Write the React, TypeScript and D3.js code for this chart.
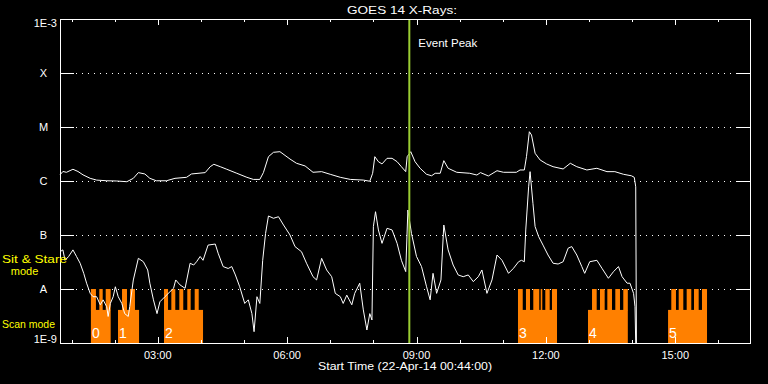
import React from "react";
import * as d3 from "d3";

// ---- data (times are minutes after 22-Apr-2014 00:44 UT, flux in W/m^2) ----
const longChannel: [number, number][] = [
  [0,1.3e-6],[4,1.5e-6],[9,1.45e-6],[18,1.65e-6],[25,1.5e-6],[32,1.3e-6],[42,1.12e-6],[51,1.04e-6],[65,1.01e-6],[79,1.0e-6],
  [93,0.97e-6],[102,1.12e-6],[109,1.43e-6],[118,1.35e-6],[125,1.12e-6],[134,1.01e-6],[148,1.01e-6],[160,1.12e-6],[176,1.17e-6],[183,1.35e-6],
  [202,1.43e-6],[209,1.84e-6],[214,2.04e-6],[223,1.84e-6],[232,1.65e-6],[246,1.39e-6],[260,1.17e-6],[269,1.07e-6],[278,1.07e-6],[283,1.43e-6],
  [290,2.82e-6],[297,3.4e-6],[306,3.49e-6],[320,2.55e-6],[329,2.13e-6],[341,1.9e-6],[352,1.45e-6],[364,1.49e-6],[376,1.33e-6],[390,1.17e-6],
  [404,1.07e-6],[422,1.04e-6],[431,0.99e-6],[435,1.39e-6],[438,2.82e-6],[443,2.28e-6],[448,2.07e-6],[455,2.63e-6],[462,2.63e-6],[469,2.28e-6],
  [475,1.84e-6],[481,1.49e-6],[483,2.82e-6],[488,3.49e-6],[494,2.28e-6],[501,1.72e-6],[510,1.33e-6],[517,1.25e-6],[522,1.39e-6],[529,1.39e-6],
  [534,2.38e-6],[540,1.72e-6],[552,1.45e-6],[570,1.39e-6],[580,1.29e-6],[585,1.43e-6],[596,1.24e-6],[608,1.55e-6],[617,1.45e-6],[635,1.45e-6],
  [640,1.6e-6],[646,1.6e-6],[649,2.82e-6],[653,8.18e-6],[656,7.11e-6],[661,3.26e-6],[668,2.45e-6],[677,2.07e-6],[686,1.84e-6],[700,1.67e-6],
  [710,2.13e-6],[719,1.84e-6],[733,1.6e-6],[747,1.72e-6],[761,1.49e-6],[772,1.49e-6],[784,1.33e-6],[795,1.25e-6],[799,1.17e-6],[801,7.8e-7],
  [802,1e-9],
];

const shortChannel: [number, number][] = [
  [0,4.9e-8],[4,5.3e-8],[7,3.4e-8],[12,4.0e-8],[18,5.3e-8],[23,4.0e-8],[28,3.0e-8],[33,1.95e-8],[37,1.28e-8],[42,8.3e-9],
  [46,7.2e-9],[51,7.2e-9],[56,5.1e-9],[60,6.3e-9],[65,4.7e-9],[67,3.1e-9],[70,5.4e-9],[74,7.2e-9],[77,1.1e-8],[81,7.2e-9],
  [86,5.4e-9],[90,3.5e-9],[95,3.1e-9],[97,4.7e-9],[102,1.47e-8],[109,3.7e-8],[116,3.2e-8],[122,2.25e-8],[125,1.28e-8],[130,6.3e-9],
  [135,3.5e-9],[139,5.8e-9],[146,7.2e-9],[153,8.9e-9],[158,1.03e-8],[161,1.47e-8],[167,1.19e-8],[174,1.03e-8],[181,3.0e-8],[186,2.78e-8],
  [190,3.2e-8],[195,4.0e-8],[199,3.4e-8],[206,6.5e-8],[216,6.8e-8],[220,4.6e-8],[227,2.6e-8],[234,2.4e-8],[239,2.6e-8],[244,1.82e-8],
  [250,1.1e-8],[257,5.4e-9],[262,6.3e-9],[267,3.5e-9],[270,1.62e-9],[274,7.2e-9],[278,5.4e-9],[282,3.4e-8],[286,1.07e-7],[290,2.25e-7],
  [297,2.04e-7],[304,2.18e-7],[311,1.53e-7],[320,1.0e-7],[327,6.1e-8],[336,4.9e-8],[343,3.0e-8],[352,1.69e-8],[357,1.47e-8],[364,3.7e-8],
  [371,2.25e-8],[378,1.69e-8],[383,8.3e-9],[390,7.2e-9],[394,5.4e-9],[399,7.7e-9],[406,5.1e-9],[410,8.3e-9],[417,1.28e-8],[422,4.1e-9],
  [427,1.74e-9],[431,3.5e-9],[434,2.67e-9],[436,1.43e-7],[439,2.7e-7],[443,1.24e-7],[448,7.0e-8],[455,1.33e-7],[462,1.24e-7],[469,7.0e-8],
  [475,3.4e-8],[481,2.1e-8],[484,2.9e-7],[489,1.07e-7],[496,4.0e-8],[503,2.6e-8],[510,1.1e-8],[515,6.3e-9],[519,1.95e-8],[524,8.3e-9],
  [530,1.47e-8],[534,1.53e-7],[540,5.3e-8],[547,2.78e-8],[554,1.82e-8],[561,1.69e-8],[568,1.82e-8],[575,1.37e-8],[582,1.69e-8],[587,2.25e-8],
  [594,8.3e-9],[601,1.47e-8],[608,4.26e-8],[615,3.4e-8],[624,1.95e-8],[631,2.42e-8],[638,3.2e-8],[642,3.4e-8],[646,3.2e-8],[648,1.24e-7],
  [652,7.8e-7],[654,1.49e-6],[658,3.86e-7],[661,1.43e-7],[666,9.3e-8],[672,6.5e-8],[679,4.26e-8],[686,3.0e-8],[693,2.9e-8],[700,3.2e-8],
  [707,5.7e-8],[712,6.1e-8],[719,4.26e-8],[726,2.6e-8],[730,1.95e-8],[737,3.2e-8],[747,3.4e-8],[754,2.42e-8],[763,1.58e-8],[770,2.09e-8],
  [777,2.6e-8],[782,1.69e-8],[789,1.28e-8],[793,1.28e-8],[798,8.3e-9],[800,4.7e-9],[801,1e-9],
];

// observing blocks: [start, end] and sit-and-stare intervals inside each
const blockLabels = ["0", "1", "2", "3", "4", "5"];
const blockSpans: [number, number][] = [[43, 70.5], [80.7, 110], [144.7, 199], [637.2, 691.5], [734.6, 790], [846, 900.2]];
const blockStares: [number, number][][] = [
  [[43, 50], [54.7, 59.4], [63.6, 70.5]],
  [[86.3, 93.2], [97.4, 104.3]],
  [[144.7, 150.3], [154.9, 160.4], [166, 171.5], [177.1, 181.8], [187.4, 193]],
  [[637.2, 643.8], [648.3, 653.9], [658.5, 666.8], [668.8, 671], [675.2, 681.3], [684.5, 691.5]],
  [[740.2, 746.7], [751.3, 757.8], [761.5, 768], [772.6, 779.1], [783.7, 790]],
  [[850.5, 857], [860.8, 867.2], [871.9, 878.3], [882.1, 888.6], [893.2, 900.2]],
];
const stareLevel = 1e-8;
const scanLevel = 4.1e-9;

const eventPeakMinute = 486; // 08:50 UT
const yTickValues = [1e-3, 1e-4, 1e-5, 1e-6, 1e-7, 1e-8, 1e-9];
const yTickLabels = ["1E-3", "X", "M", "C", "B", "A", "1E-9"];
const gridValues = [1e-4, 1e-5, 1e-6, 1e-7, 1e-8];

const START = Date.UTC(2014, 3, 22, 0, 44);
const tm = (m: number) => new Date(START + m * 60000);

export default function App() {
  const W = 768, H = 384;
  const L = 60, R = 750, T = 19, B = 343;
  const x = d3.scaleUtc().domain([tm(0), tm(960)]).range([L, R]);
  const y = d3.scaleLog().domain([1e-9, 1e-3]).range([B, T]).clamp(true);
  const line = d3.line<[number, number]>().x(d => x(tm(d[0]))).y(d => y(d[1]));
  const hours = x.ticks(d3.utcHour.every(1) as any);
  const fmt = d3.utcFormat("%H:%M");
  const font = "'Liberation Sans', Arial, sans-serif";
  const orange = "#ff8000";

  return (
    <div style={{ position: "absolute", left: 0, top: 0 }}>
      <svg width={W} height={H} style={{ display: "block", background: "#000" }} fontFamily={font}>
        <rect x={0} y={0} width={W} height={H} fill="#000" />
        {/* gridlines */}
        {gridValues.map(v => (
          <line key={"g" + v} x1={L + 16} x2={R - 14} y1={y(v) + 0.5} y2={y(v) + 0.5}
            stroke="#fff" strokeDasharray="1,5" />
        ))}
        {/* observing blocks */}
        {blockSpans.map((s, i) => (
          <g key={"b" + i}>
            <rect x={x(tm(s[0]))} width={x(tm(s[1])) - x(tm(s[0]))} y={y(scanLevel)} height={y(1e-9) - y(scanLevel)} fill={orange} />
            {blockStares[i].map((t, j) => (
              <rect key={j} x={x(tm(t[0]))} width={x(tm(t[1])) - x(tm(t[0]))} y={y(stareLevel)} height={y(scanLevel) - y(stareLevel) + 0.5} fill={orange} />
            ))}
            <text x={x(tm(s[0])) + 1} y={338} fill="#fff" fontSize={14}>{blockLabels[i]}</text>
          </g>
        ))}
        {/* curves */}
        <path d={line(longChannel) || ""} fill="none" stroke="#fff" strokeWidth={1} />
        <path d={line(shortChannel) || ""} fill="none" stroke="#fff" strokeWidth={1} />
        {/* event peak */}
        <line x1={x(tm(eventPeakMinute))} x2={x(tm(eventPeakMinute))} y1={T} y2={B} stroke="#9acd32" strokeWidth={2} />
        <text x={x(tm(eventPeakMinute)) + 9} y={47} fill="#fff" fontSize={11} textLength={59} lengthAdjust="spacingAndGlyphs">Event Peak</text>
        {/* frame */}
        <rect x={L + 0.5} y={T + 0.5} width={R - L} height={B - T} fill="none" stroke="#fff" strokeWidth={1} />
        {/* y ticks */}
        {yTickValues.map((v, i) => (
          <g key={"yt" + i}>
            <line x1={L} x2={L + 14} y1={y(v) + 0.5} y2={y(v) + 0.5} stroke="#fff" />
            <line x1={R - 14} x2={R} y1={y(v) + 0.5} y2={y(v) + 0.5} stroke="#fff" />
            {i === 0 || i === yTickValues.length - 1 ? (
              <text x={57} y={i === 0 ? 27 : 343} textAnchor="end" fill="#fff" fontSize={11}>{yTickLabels[i]}</text>
            ) : (
              <text x={43.5} y={y(v) + 4} textAnchor="middle" fill="#fff" fontSize={11}>{yTickLabels[i]}</text>
            )}
          </g>
        ))}
        {/* x ticks */}
        {hours.map((h, i) => {
          const major = h.getUTCHours() % 3 === 0;
          const len = major ? 6 : 3;
          const xx = Math.round(x(h)) + 0.5;
          return (
            <g key={"xt" + i}>
              <line x1={xx} x2={xx} y1={T} y2={T + len} stroke="#fff" />
              <line x1={xx} x2={xx} y1={B} y2={B - len} stroke="#fff" />
              {major && (
                <text x={x(h)} y={359} textAnchor="middle" fill="#fff" fontSize={11}>{fmt(h)}</text>
              )}
            </g>
          );
        })}
        {/* titles */}
        <text x={402} y={14} textAnchor="middle" fill="#fff" fontSize={11} textLength={110} lengthAdjust="spacingAndGlyphs">GOES 14 X-Rays:</text>
        <text x={405} y={370} textAnchor="middle" fill="#fff" fontSize={11} textLength={174} lengthAdjust="spacingAndGlyphs">Start Time (22-Apr-14 00:44:00)</text>
        {/* mode labels */}
        <text x={2} y={263} fill="#ffff00" fontSize={11} textLength={65} lengthAdjust="spacingAndGlyphs">Sit &amp; Stare</text>
        <text x={24.5} y={275} textAnchor="middle" fill="#ffff00" fontSize={11}>mode</text>
        <text x={2} y={328} fill="#ffff00" fontSize={11} textLength={53} lengthAdjust="spacingAndGlyphs">Scan mode</text>
      </svg>
    </div>
  );
}
